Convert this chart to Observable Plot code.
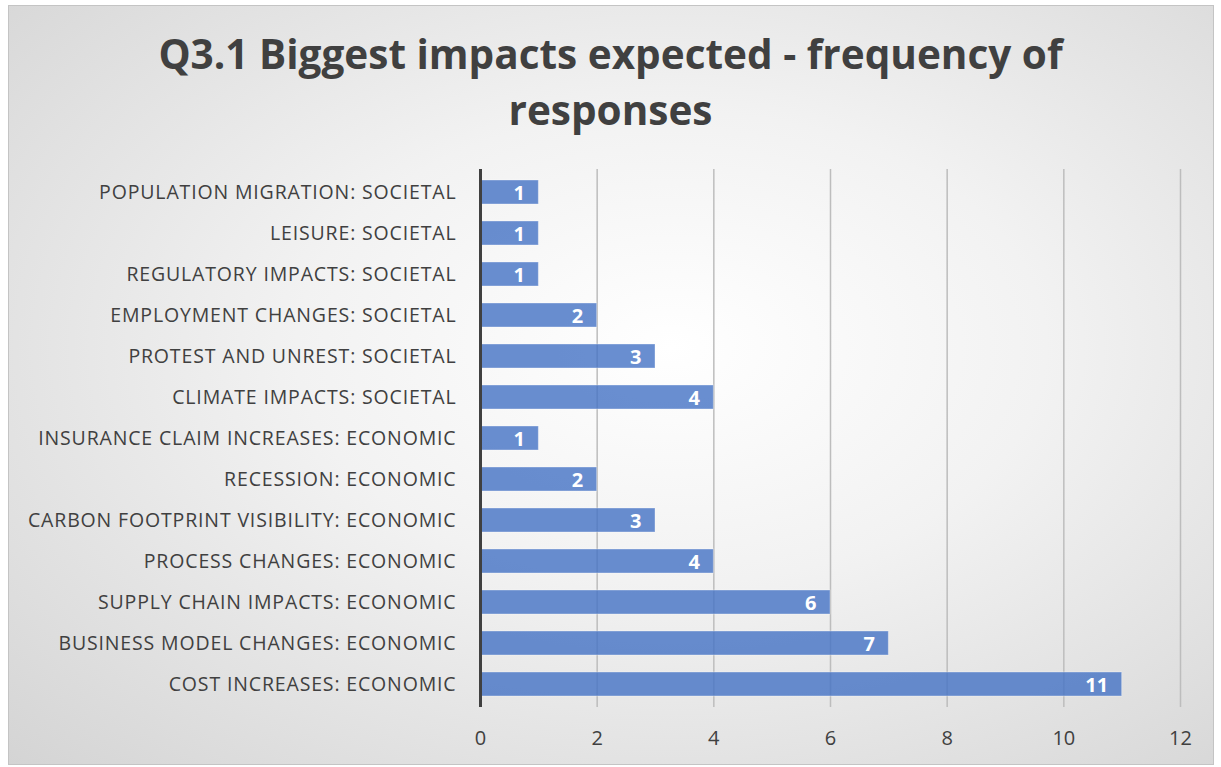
<!DOCTYPE html>
<html>
<head>
<meta charset="utf-8">
<script src="https://cdn.jsdelivr.net/npm/d3@7"></script>
<script src="https://cdn.jsdelivr.net/npm/@observablehq/plot@0.6"></script>
<style>
  html, body { margin: 0; padding: 0; width: 1221px; height: 767px; overflow: hidden; background: #fff; }
  #frame {
    position: absolute; left: 8px; top: 5px; width: 1204px; height: 758px;
    border: 1px solid #c4c4c4;
    background: radial-gradient(ellipse at 55% 45%, #ffffff 0%, #f2f2f2 40%, #d4d4d4 100%);
  }
  #title {
    position: absolute; left: 0; top: 26px; width: 1221px; text-align: center;
    font-family: "Open Sans", sans-serif; font-weight: bold; font-size: 40.5px; line-height: 56px;
    color: #404040;
  }
  #chart { position: absolute; left: 0; top: 0; }
  #chart svg g[aria-label="y-axis tick label"] text { letter-spacing: 0.85px; }
</style>
</head>
<body>
<div id="frame"></div>
<div id="title">Q3.1 Biggest impacts expected - frequency of<br>responses</div>
<div id="chart"></div>
<script>
const categories = [
  "POPULATION MIGRATION: SOCIETAL",
  "LEISURE: SOCIETAL",
  "REGULATORY IMPACTS: SOCIETAL",
  "EMPLOYMENT CHANGES: SOCIETAL",
  "PROTEST AND UNREST: SOCIETAL",
  "CLIMATE IMPACTS: SOCIETAL",
  "INSURANCE CLAIM INCREASES: ECONOMIC",
  "RECESSION: ECONOMIC",
  "CARBON FOOTPRINT VISIBILITY: ECONOMIC",
  "PROCESS CHANGES: ECONOMIC",
  "SUPPLY CHAIN IMPACTS: ECONOMIC",
  "BUSINESS MODEL CHANGES: ECONOMIC",
  "COST INCREASES: ECONOMIC"
];
const values = [1, 1, 1, 2, 3, 4, 1, 2, 3, 4, 6, 7, 11];
const xTicks = [0, 2, 4, 6, 8, 10, 12];

const data = categories.map((c, i) => ({category: c, value: values[i]}));

const chart = Plot.plot({
  width: 1221,
  height: 767,
  marginLeft: 480,
  marginRight: 41,
  marginTop: 169,
  marginBottom: 60,
  style: {background: "transparent", fontFamily: "Open Sans, sans-serif", fontSize: "19px", color: "#404040"},
  x: {domain: [0, 12], ticks: xTicks, label: null},
  y: {domain: categories, label: null, paddingInner: 0.42, paddingOuter: 0.21},
  marks: [
    Plot.gridX(xTicks.filter(d => d > 0), {stroke: "#bdbdbd", strokeOpacity: 1, strokeWidth: 1.5}),
    Plot.barX(data, {x: "value", y: "category", fill: "#4472c4", fillOpacity: 0.8, stroke: "#ffffff", strokeOpacity: 0.35, strokeWidth: 1}),
    Plot.text(data, {x: "value", y: "category", text: d => String(d.value), textAnchor: "end", dx: -14, dy: 1, fill: "white", fontWeight: "bold", fontSize: 20}),
    Plot.ruleX([0], {stroke: "#404040", strokeWidth: 3}),
    Plot.axisX({ticks: xTicks, tickSize: 0, tickPadding: 23, fontSize: 20, fill: "#404040", label: null}),
    Plot.axisY({tickSize: 0, tickPadding: 24, fontSize: 19.5, fill: "#404040", label: null})
  ]
});
document.getElementById("chart").appendChild(chart);
</script>
</body>
</html>
